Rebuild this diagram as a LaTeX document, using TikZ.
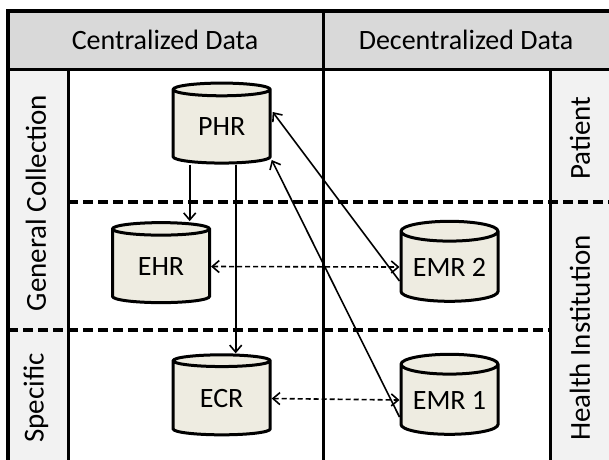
\documentclass[tikz,border=0pt]{standalone}
\usepackage{fontspec}
\setmainfont{Carlito}
\usetikzlibrary{shapes.geometric,arrows.meta}
\definecolor{hdr}{HTML}{D9D9D9}
\definecolor{side}{HTML}{F2F2F2}
\definecolor{cyl}{HTML}{EEECE1}
\begin{document}
\begin{tikzpicture}[x=1pt,y=-1pt,
  frame/.style={line width=3.4pt},
  divider/.style={line width=3pt},
  sep/.style={line width=3.2pt, dash pattern=on 10pt off 5pt},
  db/.style={cylinder, shape border rotate=90, aspect=0.27, draw, line width=3pt,
     fill=cyl, minimum width=97pt, minimum height=80pt, inner sep=0pt,
     font=\fontsize{28}{30}\selectfont},
  hlabel/.style={font=\fontsize{28}{32}\selectfont},
  vlabel/.style={font=\fontsize{29}{32}\selectfont, rotate=90},
  arr/.style={line width=1.6pt, -{Straight Barb[length=7pt,width=12pt,line width=1.6pt]}},
  darr/.style={line width=1.6pt, dash pattern=on 5pt off 3pt,
     {Straight Barb[length=7pt,width=12pt,line width=1.6pt]}-{Straight Barb[length=7pt,width=12pt,line width=1.6pt]}}
]
\useasboundingbox (0,0) rectangle (609,459);
\clip (0,0) rectangle (609,459);
% fills
\fill[white] (0,0) rectangle (609,459);
\fill[hdr] (8,11) rectangle (620,69);
\fill[side] (8,69) rectangle (68,470);
\fill[side] (550,69) rectangle (620,470);
% separators
\draw[sep] (68,202) -- (620,202);
\draw[sep] (8,330) -- (550,330);
% frame lines
\draw[frame] (8,470) -- (8,11) -- (620,11);
\draw[divider] (8,69) -- (620,69);
\draw[divider] (68,69) -- (68,470);
\draw[divider] (323,11) -- (323,470);
\draw[divider] (550,69) -- (550,470);
% labels
\node[hlabel] (hc) at (165,40) {Centralized Data};
\node[hlabel] (hd) at (466,40) {Decentralized Data};
\node[vlabel] (lg) at (36,203) {General Collection};
\node[vlabel] (ls) at (36,398) {Specific};
\node[vlabel] (rp) at (580,138) {Patient};
\node[vlabel] (rh) at (580,338) {Health Institution};
% databases
\node[db] (PHR) at (221.7,127) {\raisebox{-8pt}{PHR}};
\node[db] (EHR) at (161,266.5) {\raisebox{-8pt}{EHR}};
\node[db] (ECR) at (221.7,398.5) {\raisebox{-8pt}{ECR}};
\node[db] (EMR2) at (449.5,267) {\raisebox{-8pt}{EMR 2}};
\node[db] (EMR1) at (449.5,400) {\raisebox{-8pt}{EMR 1}};
% connectors
\draw[arr] ([xshift=-32pt]PHR.south) -- ([xshift=-32pt]PHR.south |- EHR.north);
\draw[arr] ([xshift=14pt]PHR.south) -- ([xshift=14pt]PHR.south |- ECR.north);
\draw[arr] ([yshift=-14pt]EMR2.west) -- ([yshift=15pt,xshift=1pt]PHR.east);
\draw[arr] ([yshift=-17pt]EMR1.west) -- ([yshift=-33pt]PHR.east);
\draw[darr] (EHR.east) -- (EMR2.west);
\draw[darr] (ECR.east) -- (EMR1.west);
\end{tikzpicture}
\end{document}
